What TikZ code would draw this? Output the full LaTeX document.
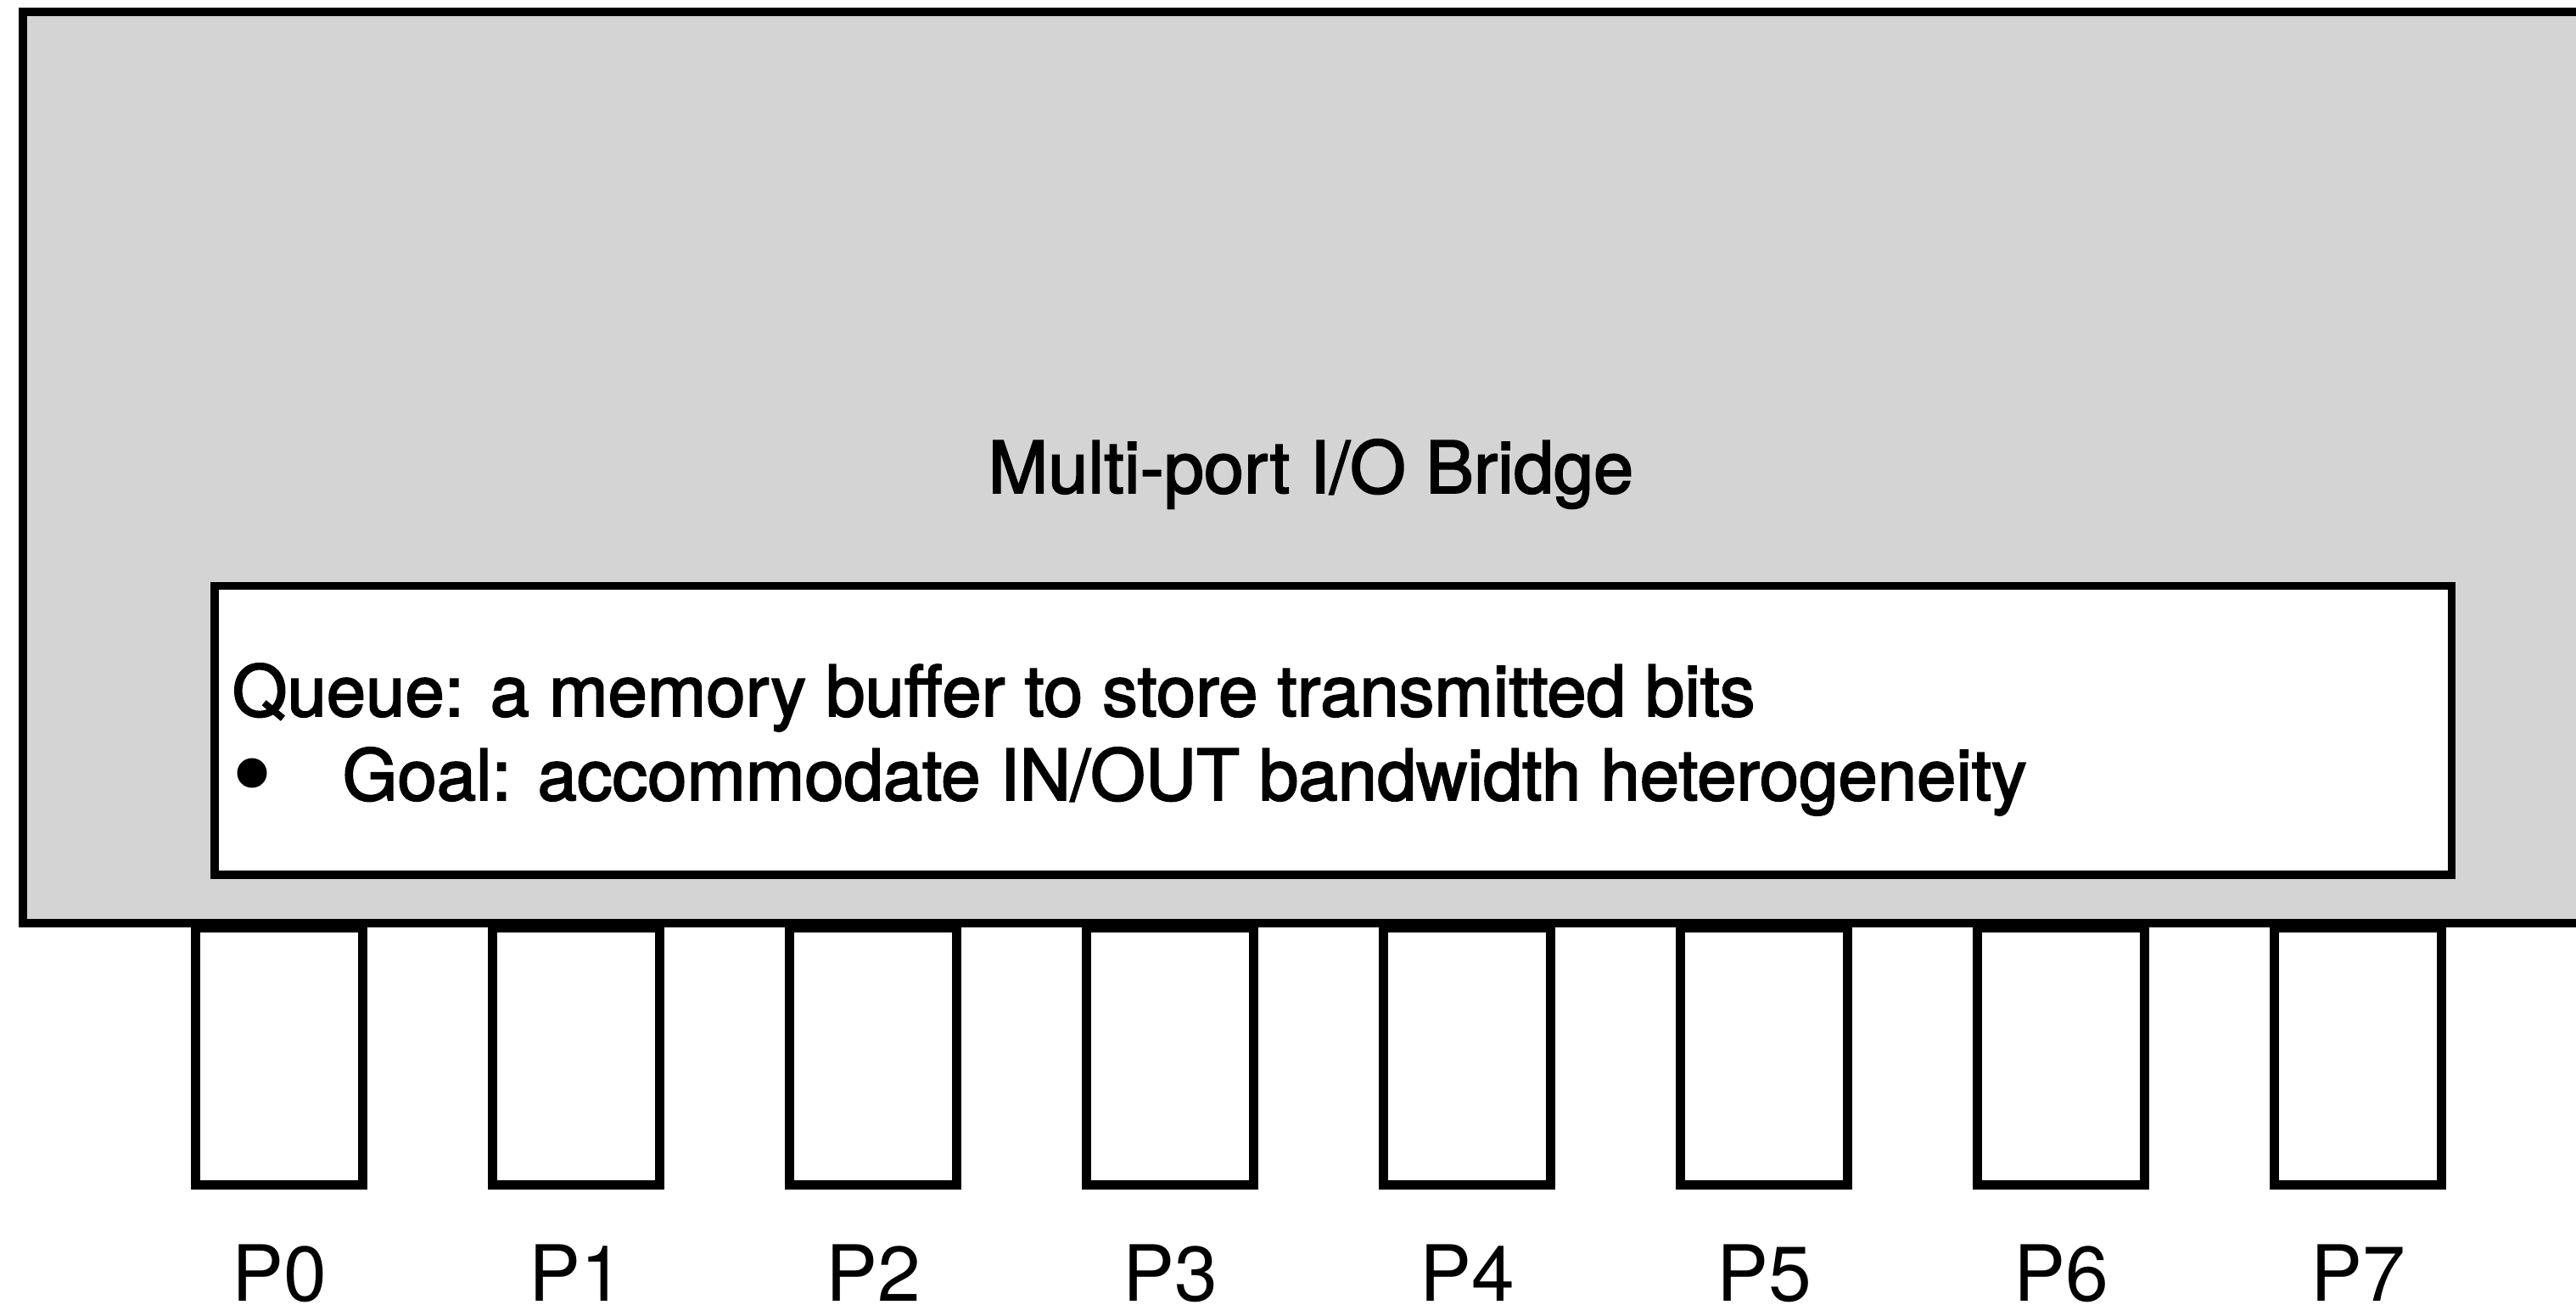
\documentclass[tikz,border=0pt]{standalone}
\usepackage{fontspec}
\setmainfont{TeX Gyre Heros}
\newfontfamily\medfont[FakeBold=2.2]{TeX Gyre Heros}
\usetikzlibrary{decorations.pathmorphing}
\definecolor{bridgegray}{RGB}{212,212,212}

\begin{document}
\begin{tikzpicture}[line join=miter]
	\tikzset{port box/.style={draw,line width=3pt,fill=white,inner sep=0pt,minimum width=1.97cm,minimum height=3.03cm,anchor=north},
		port label/.style={font=\fontsize{26}{30}\selectfont,anchor=base},
		box text/.style={font=\medfont\fontsize{23.7}{28.5}\selectfont,anchor=base west,inner sep=0pt},
		sketch/.style={decorate,decoration={random steps,segment length=28pt,amplitude=0.6pt},line width=1pt}}
	\pgfmathsetseed{7}
	\useasboundingbox (0,0) rectangle (30.36,15.51);
	% the bridge
	\draw[line width=3pt,fill=bridgegray] (0.27,4.63) rectangle (31.2,15.37);
	\node[font=\medfont\fontsize{24.1}{28.5}\selectfont,anchor=base] (title) at (15.45,9.70) {Multi-port I/O Bridge};
	% queue box, hand drawn border
	\node[fill=white,inner sep=0pt,minimum width=26.35cm,minimum height=3.39cm,anchor=south west] (qbox) at (2.53,5.20) {};
	\draw[line width=2.6pt] (qbox.south west) rectangle (qbox.north east);
	\foreach \s in {1,2}
		\draw[sketch] (qbox.south west) rectangle (qbox.north east);
	\node[box text] (queue) at (2.73,7.07) {Queue: a memory buffer to store transmitted bits};
	\fill (2.97,6.40) circle (0.175);
	\node[box text] (goal) at (4.03,6.08) {Goal: accommodate IN/OUT bandwidth heterogeneity};
	% ports
	\foreach \i in {0,...,7}{
		\node[port box] (p\i) at ({3.29+3.5*\i},4.63) {};
		\node[port label] (l\i) at ({3.29+3.5*\i},0.17) {P\i};
	}
\end{tikzpicture}
\end{document}
